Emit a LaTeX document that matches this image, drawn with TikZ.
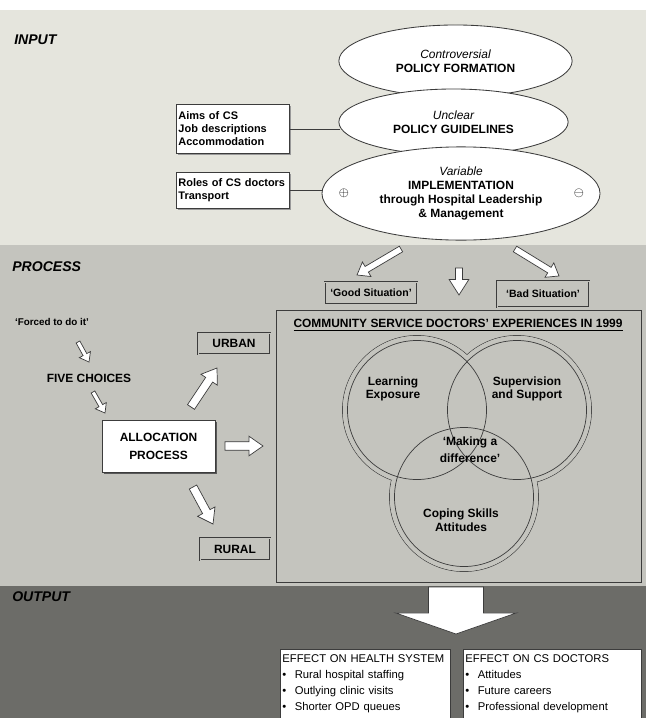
\documentclass[tikz,border=0pt]{standalone}
\usepackage{fontspec}
\setmainfont{Liberation Sans}
\usetikzlibrary{calc,positioning,shapes.geometric,shadows}

\definecolor{inbg}{RGB}{229,229,221}
\definecolor{procbg}{RGB}{196,196,190}
\definecolor{outbg}{RGB}{108,108,104}
\definecolor{edge}{RGB}{60,60,60}

\tikzset{
  stage/.style={anchor=west, inner sep=0pt, font=\fontsize{10}{12}\selectfont\bfseries\itshape},
  policy/.style={ellipse, draw=edge, fill=white, inner sep=0pt, align=center, line width=0.6pt},
  sign/.style={inner sep=0pt, font=\fontsize{9}{9}\selectfont},
  factors/.style={draw=edge, fill=white, anchor=north west, align=left, inner sep=1.5pt,
    text width=2.72cm, line width=0.5pt,
    drop shadow={shadow xshift=1pt, shadow yshift=-1pt, fill=black!40, opacity=1},
    font=\fontsize{7.8}{9.2}\selectfont\bfseries},
  situation/.style={draw=edge, double=procbg, double distance=0.7pt, line width=0.45pt,
    inner sep=0pt, font=\fontsize{7.5}{9}\selectfont\bfseries},
  place/.style={situation, font=\fontsize{8.5}{10}\selectfont\bfseries},
  plainlabel/.style={inner sep=0pt, align=center},
  effect/.style={draw=edge, fill=white, anchor=north west, align=left, inner sep=1.5pt,
    line width=0.5pt, font=\fontsize{8}{11.3}\selectfont\mdseries},
  blockarrow/.style n args={3}{draw=edge, fill=white, line width=0.5pt, line join=miter,
    to path={let \p1=(\tikztostart), \p2=(\tikztotarget),
      \n1={atan2(\y2-\y1,\x2-\x1)}, \n2={veclen(\x2-\x1,\y2-\y1)} in
      {[shift={(\p1)}, rotate=\n1]
        (0pt,-#1) -- ({\n2-#3},-#1) -- ({\n2-#3},-#2) -- (\n2,0pt)
        -- ({\n2-#3},#2) -- ({\n2-#3},#1) -- (0pt,#1) -- cycle}}},
}

\begin{document}
\begin{tikzpicture}[x=0.025cm, y=-0.025cm, font=\fontsize{8.5}{9.8}\selectfont\bfseries]
\useasboundingbox (0,0) rectangle (646,718);

% bands
\fill[white] (0,0) rectangle (646,10);
\fill[inbg] (0,10) rectangle (646,245);
\fill[procbg] (0,245) rectangle (646,586);
\fill[outbg] (0,586) rectangle (646,718);

\node[stage] (input) at (14,40) {INPUT};
\node[stage] (process) at (12,267) {PROCESS};
\node[stage] (output) at (12,597) {OUTPUT};

% policy ovals
\node[policy, minimum width=5.83cm, minimum height=1.8cm] (formation) at (455.5,61)
  {{\mdseries\itshape Controversial}\\POLICY FORMATION};
\node[policy, minimum width=5.73cm, minimum height=1.65cm] (guide) at (453.5,122)
  {{\mdseries\itshape Unclear}\\POLICY GUIDELINES};
\node[policy, minimum width=6.95cm, minimum height=2.33cm] (impl) at (461,193.5)
  {{\mdseries\itshape Variable}\\IMPLEMENTATION\\through Hospital Leadership\\\& Management};
\node[sign] (plus) at (344,193) {$\oplus$};
\node[sign] (minus) at (579,193) {$\ominus$};

\node[factors, minimum height=1.225cm] (aims) at (176,104) {Aims of CS\\Job descriptions\\Accommodation};
\node[factors, minimum height=0.9cm] (roles) at (176,172) {Roles of CS doctors\\Transport};
\draw[edge, line width=0.5pt] (aims.east) -- (aims.east -| guide.183);
\draw[edge, line width=0.5pt] (roles.east) -- (roles.east -| impl.west);

% situations
\node[situation, minimum width=2.3cm, minimum height=0.55cm] (good) at (371,293) {`Good Situation'};
\node[situation, minimum width=2.3cm, minimum height=0.65cm] (bad) at (543,294) {`Bad Situation'};
\coordinate (goodtail) at (401,249);
\coordinate (goodtip) at (357,275);
\coordinate (downtail) at (459,268);
\coordinate (downtip) at (459,295);
\coordinate (badtail) at (515,249);
\coordinate (badtip) at (559,276);
\draw[blockarrow={2.3pt}{6pt}{8pt}] (goodtail) to (goodtip);
\draw[blockarrow={2.5pt}{7pt}{11pt}] (downtail) to (downtip);
\draw[blockarrow={2.3pt}{6pt}{8pt}] (badtail) to (badtip);

% allocation side
\node[plainlabel, font=\fontsize{7}{8}\selectfont\bfseries] (forced) at (52,322) {`Forced to do it'};
\node[plainlabel] (five) at (89,378) {FIVE CHOICES};
\node[draw=edge, fill=white, line width=0.5pt, minimum width=2.825cm, minimum height=1.3cm, align=center,
  drop shadow={shadow xshift=1.5pt, shadow yshift=-1.5pt, fill=black!65, opacity=1}]
  (alloc) at (158.5,446) {ALLOCATION\\[3pt]PROCESS};
\node[place, minimum width=1.8cm, minimum height=0.525cm] (urban) at (234,343.5) {URBAN};
\node[place, minimum width=1.75cm, minimum height=0.55cm] (rural) at (235,549) {RURAL};

\coordinate (forcedtail) at (78,342);
\coordinate (forcedtip) at (89,362);
\coordinate (fivetail) at (93,392);
\coordinate (fivetip) at (105,413);
\coordinate (urbantail) at (191,407);
\coordinate (urbantip) at (217,368);
\coordinate (righttail) at (225,446);
\coordinate (righttip) at (263,446);
\coordinate (ruraltail) at (193,487);
\coordinate (ruraltip) at (213,524);
\draw[blockarrow={1.5pt}{4.5pt}{6pt}] (forcedtail) to (forcedtip);
\draw[blockarrow={1.5pt}{4.5pt}{6pt}] (fivetail) to (fivetip);
\draw[blockarrow={3pt}{7pt}{10pt}] (urbantail) to (urbantip);
\draw[blockarrow={3pt}{7pt}{10pt}] (righttail) to (righttip);
\draw[blockarrow={3pt}{7pt}{10pt}] (ruraltail) to (ruraltip);

% experiences
\node[draw=edge, line width=0.6pt, minimum width=9.125cm, minimum height=6.8cm, inner sep=0pt]
  (exper) at (458.5,446) {};
\node[plainlabel] (title) at (458,325) {\underline{COMMUNITY SERVICE DOCTORS' EXPERIENCES IN 1999}};

\coordinate (learnc) at (417,410);
\coordinate (superc) at (517,410);
\coordinate (copec) at (464,497);
\foreach \c in {learnc,superc,copec}
  \draw[edge, line width=0.5pt] (\c) circle[radius=1.8625cm];
\foreach \c in {learnc,superc,copec}
  \fill[procbg] (\c) circle[radius=1.855cm];
\foreach \c in {learnc,superc,copec}
  \draw[edge, line width=0.5pt] (\c) circle[radius=1.7375cm];

\node[plainlabel] (learn) at (393,389) {Learning\\Exposure};
\node[plainlabel] (super) at (527,389) {Supervision\\and Support};
\node[plainlabel] (making) at (470,450) {`Making a\\[2pt]difference'};
\node[plainlabel] (coping) at (461,520) {Coping Skills\\Attitudes};

% output
\coordinate (outtail) at (456,587);
\coordinate (outtip) at (456,634);
\draw[blockarrow={19.5pt}{43pt}{15pt}] (outtail) to (outtip);

\node[effect, text width=4.14cm, minimum height=1.725cm] (health) at (280,649)
  {EFFECT ON HEALTH SYSTEM\\
   \textbullet\hspace{6pt}Rural hospital staffing\\
   \textbullet\hspace{6pt}Outlying clinic visits\\
   \textbullet\hspace{6pt}Shorter OPD queues};
\node[effect, text width=4.34cm, minimum height=1.725cm] (doctors) at (463,649)
  {EFFECT ON CS DOCTORS\\
   \textbullet\hspace{6pt}Attitudes\\
   \textbullet\hspace{6pt}Future careers\\
   \textbullet\hspace{6pt}Professional development};

\end{tikzpicture}
\end{document}
